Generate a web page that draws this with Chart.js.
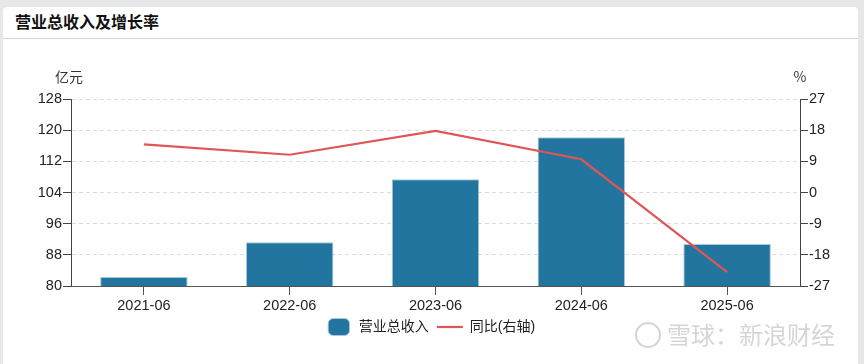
<!DOCTYPE html>
<html>
<head>
<meta charset="utf-8">
<script src="https://cdn.jsdelivr.net/npm/chart.js@4.4.1/dist/chart.umd.min.js"></script>
<style>
  html, body { margin: 0; padding: 0; background: #e6e7e9; }
  body { width: 864px; height: 364px; overflow: hidden; position: relative; font-family: "Liberation Sans", "Noto Sans CJK SC", sans-serif; }
  .card { position: absolute; left: 3px; top: 7px; width: 855px; height: 357px; background: #fff; border-radius: 4px 4px 0 0; }
  .title { height: 31px; line-height: 29px; padding-left: 12px; font-size: 16px; font-weight: bold; color: #111; border-bottom: 1px solid #d4d4d4; font-family: "Noto Sans CJK SC", sans-serif; }
  .wrap { position: absolute; left: 0; top: 33px; width: 855px; height: 324px; }
</style>
</head>
<body>
<div class="card">
  <div class="title">营业总收入及增长率</div>
  <div class="wrap"><canvas id="myChart" width="855" height="324"></canvas></div>
</div>
<script>
  const labels = ['2021-06', '2022-06', '2023-06', '2024-06', '2025-06'];
  const revenue = [82.3, 91.2, 107.4, 118.2, 90.8];
  const growth = [13.9, 10.9, 17.8, 9.6, -23.0];
  const leftTicks = [80, 88, 96, 104, 112, 120, 128];
  const rightTicks = [-27, -18, -9, 0, 9, 18, 27];

  const fontFamily = '"Liberation Sans", "Noto Sans CJK SC", sans-serif';

  // axis units above the y axes + watermark
  const extras = {
    id: 'extras',
    afterDraw(chart) {
      const c = chart.ctx;
      const a = chart.chartArea;
      c.save();
      c.fillStyle = '#333';
      c.font = '14px "Noto Sans CJK SC", sans-serif';
      c.textAlign = 'center';
      c.textBaseline = 'middle';
      c.fillText('亿元', a.left - 2, a.top - 22);
      c.fillText('%', a.right, a.top - 22);
      c.fillStyle = 'rgba(150,150,150,0.4)';
      c.font = '24px "Noto Sans CJK SC", sans-serif';
      c.textAlign = 'left';
      c.fillText('雪球：新浪财经', 664, 295);
      c.strokeStyle = 'rgba(150,150,150,0.4)';
      c.lineWidth = 2;
      c.beginPath();
      c.arc(645, 295, 12, 0, Math.PI * 2);
      c.stroke();
      c.restore();
    }
  };

  const ctx = document.getElementById('myChart');

  new Chart(ctx, {
    type: 'bar',
    data: {
      labels: labels,
      datasets: [{
        type: 'line',
        label: '同比(右轴)',
        data: growth,
        yAxisID: 'y1',
        borderColor: '#e05656',
        backgroundColor: '#e05656',
        borderWidth: 2.2,
        pointRadius: 0,
        pointStyle: 'line',
        tension: 0,
        order: 0,
      }, {
        label: '营业总收入',
        data: revenue,
        yAxisID: 'y',
        backgroundColor: '#22759f',
        borderColor: '#a9c8da',
        borderWidth: 1,
        barPercentage: 0.6,
        categoryPercentage: 1,
        pointStyle: 'rectRounded',
        order: 1,
      }],
    },
    options: {
      responsive: false,
      animation: false,
      devicePixelRatio: 1,
      layout: { padding: { top: 59, left: 0, right: 0, bottom: 20 } },
      plugins: {
        tooltip: { enabled: false },
        legend: {
          position: 'bottom',
          reverse: true,
          labels: {
            usePointStyle: true,
            pointStyleWidth: 26,
            boxHeight: 14,
            color: '#222',
            font: { size: 14, family: fontFamily },
            padding: 8,
          },
        },
      },
      scales: {
        x: {
          grid: { display: true, drawOnChartArea: false, offset: false, tickLength: 9, tickColor: '#555' },
          border: { color: '#555', width: 1 },
          ticks: { color: '#222', font: { size: 14.5, family: fontFamily }, padding: 2, maxRotation: 0 },
          afterFit(s) { s.height = 26; },
        },
        y: {
          position: 'left',
          min: 80,
          max: 128,
          afterBuildTicks(s) { s.ticks = leftTicks.map(v => ({ value: v })); },
          grid: { color: '#dcdcdc', tickColor: '#444', tickLength: 8 },
          border: { color: '#444', dash: [4, 3] },
          ticks: { color: '#222', font: { size: 14.5, family: fontFamily }, padding: 1 },
          afterFit(s) { s.width = 68; },
        },
        y1: {
          position: 'right',
          min: -27,
          max: 27,
          afterBuildTicks(s) { s.ticks = rightTicks.map(v => ({ value: v })); },
          grid: { drawOnChartArea: false, tickColor: '#444', tickLength: 8 },
          border: { color: '#444' },
          ticks: { color: '#222', font: { size: 14.5, family: fontFamily }, padding: 1 },
          afterFit(s) { s.width = 58; },
        },
      },
    },
    plugins: [extras],
  });
</script>
</body>
</html>
